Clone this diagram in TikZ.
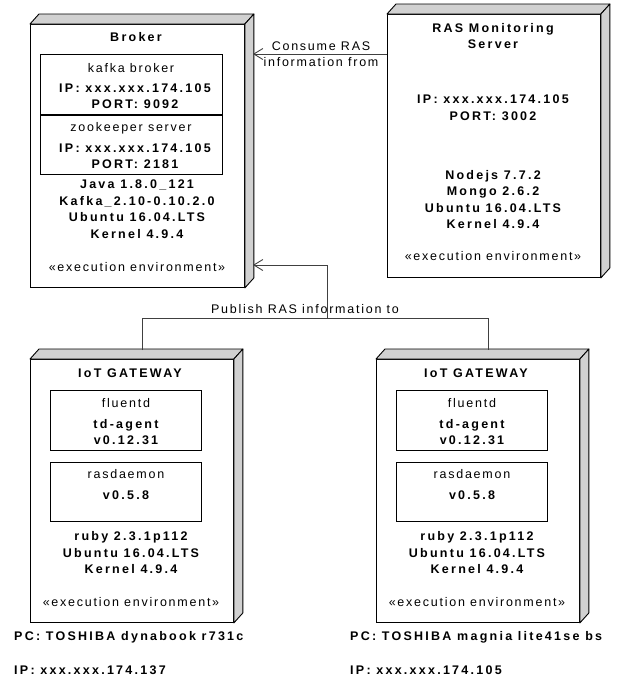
\documentclass[tikz,border=0pt]{standalone}
\usepackage{fontspec}
\setmainfont{Liberation Sans}[LetterSpace=14,BoldFeatures={LetterSpace=18}]
\usetikzlibrary{arrows.meta}
\newcommand\nodefaces[1]{%
  \filldraw[face] (#1.north west) -- ++(9,-10) -- ([shift={(9,-10)}]#1.north east) -- (#1.north east) -- cycle;
  \filldraw[face] (#1.north east) -- ++(9,-10) -- ([shift={(9,-10)}]#1.south east) -- (#1.south east) -- cycle;
}
\begin{document}
\begin{tikzpicture}[x=1pt,y=-1pt,
  font=\fontsize{12.5}{16.5}\selectfont,
  frontbox/.style={draw=black, line width=0.9pt, fill=white, anchor=north west, inner sep=0pt},
  face/.style={draw=black, line width=0.9pt, fill=black!18, line join=round},
  inbox/.style={draw=black, line width=0.9pt, anchor=north west, inner sep=0pt},
  txt/.style={inner sep=0pt, align=center},
  btxt/.style={inner sep=0pt, align=center, font=\fontsize{12.5}{16.5}\selectfont\bfseries},
  conn/.style={draw=black!75, line width=0.9pt},
  tip/.style={-{Straight Barb[length=9pt,width=11pt,line width=0.9pt]}}
]
\useasboundingbox (0,0) rectangle (622,681);

% ---------- Broker ----------
\node[frontbox, minimum width=214pt, minimum height=263pt] (broker) at (30,24) {};
\nodefaces{broker}
\node[btxt] (brokert) at (136,37) {Broker};
\node[inbox, minimum width=182pt, minimum height=60pt] (kafka) at (40,54) {};
\node[txt] (kafkat) at (131,68) {kafka broker};
\node[btxt] (kafkaip) at (135,96) {IP: xxx.xxx.174.105\\PORT: 9092};
\node[inbox, minimum width=182pt, minimum height=59pt] (zoo) at (40,115) {};
\node[txt] (zoot) at (131,128) {zookeeper server};
\node[btxt] (zooip) at (135,156) {IP: xxx.xxx.174.105\\PORT: 2181};
\node[btxt] (brokersw) at (137,209) {Java 1.8.0\_121\\Kafka\_2.10-0.10.2.0\\Ubuntu 16.04.LTS\\Kernel 4.9.4};
\node[txt] (brokerenv) at (137,267) {«execution environment»};

% ---------- RAS Monitoring Server ----------
\node[frontbox, minimum width=213pt, minimum height=263pt] (ras) at (387,14) {};
\nodefaces{ras}
\node[btxt] (rast) at (493,36) {RAS Monitoring\\Server};
\node[btxt] (rasip) at (493,107.5) {IP: xxx.xxx.174.105\\PORT: 3002};
\node[btxt] (rassw) at (493,199.5) {Nodejs 7.7.2\\Mongo 2.6.2\\Ubuntu 16.04.LTS\\Kernel 4.9.4};
\node[txt] (rasenv) at (493,256) {«execution environment»};

% ---------- IoT Gateway 1 ----------
\node[frontbox, minimum width=203pt, minimum height=263pt] (gw1) at (30,359) {};
\nodefaces{gw1}
\node[btxt] (gw1t) at (130,373) {IoT GATEWAY};
\node[inbox, minimum width=151pt, minimum height=60pt] (fl1) at (50,390) {};
\node[txt] (fl1t) at (126,403) {fluentd};
\node[btxt] (fl1v) at (126,432) {td-agent\\v0.12.31};
\node[inbox, minimum width=151pt, minimum height=59pt] (rd1) at (50,462) {};
\node[txt] (rd1t) at (126,474) {rasdaemon};
\node[btxt] (rd1v) at (126,495) {v0.5.8};
\node[btxt] (gw1sw) at (131,553) {ruby 2.3.1p112\\Ubuntu 16.04.LTS\\Kernel 4.9.4};
\node[txt] (gw1env) at (131,602) {«execution environment»};
\node[btxt, anchor=west] (pc1) at (14,637) {PC: TOSHIBA dynabook r731c};
\node[btxt, anchor=west] (ip1) at (14,670) {IP: xxx.xxx.174.137};

% ---------- IoT Gateway 2 ----------
\node[frontbox, minimum width=203pt, minimum height=263pt] (gw2) at (376,359) {};
\nodefaces{gw2}
\node[btxt] (gw2t) at (476,373) {IoT GATEWAY};
\node[inbox, minimum width=151pt, minimum height=60pt] (fl2) at (396,390) {};
\node[txt] (fl2t) at (472,403) {fluentd};
\node[btxt] (fl2v) at (472,432) {td-agent\\v0.12.31};
\node[inbox, minimum width=151pt, minimum height=59pt] (rd2) at (396,462) {};
\node[txt] (rd2t) at (472,474) {rasdaemon};
\node[btxt] (rd2v) at (472,495) {v0.5.8};
\node[btxt] (gw2sw) at (477,553) {ruby 2.3.1p112\\Ubuntu 16.04.LTS\\Kernel 4.9.4};
\node[txt] (gw2env) at (477,602) {«execution environment»};
\node[btxt, anchor=west] (pc2) at (350,637) {PC: TOSHIBA magnia lite41se bs};
\node[btxt, anchor=west] (ip2) at (350,670) {IP: xxx.xxx.174.105};

% ---------- Connectors ----------
\coordinate (consumeend) at (253,54);
\draw[conn, tip] (ras.west |- consumeend) -- (consumeend);
\node[txt] (consumelbl) at (321,54) {Consume RAS\\information from};

\coordinate (pubend) at (253,265);
\coordinate (pubjoin) at (327,318);
\coordinate (gw1top) at (142,350);
\coordinate (gw2top) at (488,350);
\draw[conn] (gw1top) -- (gw1top |- pubjoin) -- (gw2top |- pubjoin) -- (gw2top);
\draw[conn, tip] (pubjoin) -- (pubjoin |- pubend) -- (pubend);
\node[txt] (publbl) at (305,309) {Publish RAS information to};
\end{tikzpicture}
\end{document}
